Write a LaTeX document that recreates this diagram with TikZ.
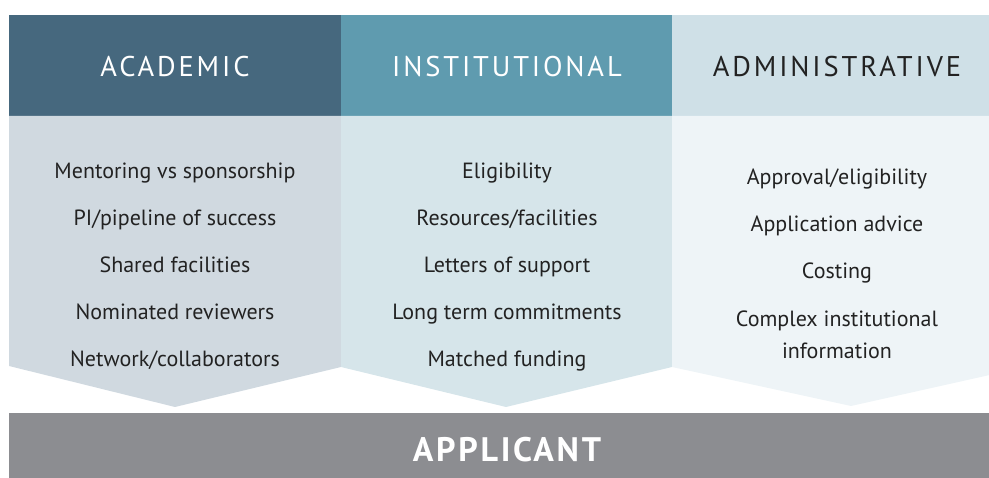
\documentclass[tikz,border=0pt]{standalone}
\usepackage{fontspec}
\setmainfont{PT Sans}
\usetikzlibrary{positioning}

\definecolor{acadhead}{HTML}{46687E}
\definecolor{insthead}{HTML}{5F9BAF}
\definecolor{admhead}{HTML}{CFE0E7}
\definecolor{acadbody}{HTML}{D0D9E0}
\definecolor{instbody}{HTML}{D6E5EA}
\definecolor{admbody}{HTML}{EEF4F7}
\definecolor{applbar}{HTML}{8C8D91}
\definecolor{itemtext}{HTML}{222222}

\tikzset{
  head/.style={inner sep=0pt,anchor=center,
    font=\fontsize{28.5}{30}\selectfont\addfontfeatures{LetterSpace=10}},
  item/.style={inner sep=0pt,anchor=base,text=itemtext,align=center,
    font=\fontsize{22}{32}\selectfont},
}

\begin{document}
\begin{tikzpicture}[x=1pt,y=-1pt]
  \useasboundingbox (0,0) rectangle (989,478);
  \clip (0,0) rectangle (989,478);

  % header bands
  \fill[acadhead] (9,15) rectangle (341,116);
  \fill[insthead] (341,15) rectangle (672,116);
  \fill[admhead] (672,15) rectangle (1030,116);
  \node[head,text=white] (acad) at (175,67) {ACADEMIC};
  \node[head,text=white] (inst) at (507,67) {INSTITUTIONAL};
  \node[head,text=itemtext] (adm) at (837,67) {ADMINISTRATIVE};

  % chevron bodies
  \fill[acadbody] (9,116) -- (341,116) -- (341,367) -- (175,407) -- (9,366) -- cycle;
  \fill[instbody] (341,116) -- (672,116) -- (672,367) -- (506,407) -- (341,367) -- cycle;
  \fill[admbody] (672,116) -- (1030,116) -- (1030,366) -- (851,406) -- (672,367) -- cycle;

  % academic
  \node[item] (a1) at (175,179) {Mentoring vs sponsorship};
  \node[item] (a2) at (175,226) {PI/pipeline of success};
  \node[item] (a3) at (175,273) {Shared facilities};
  \node[item] (a4) at (175,320) {Nominated reviewers};
  \node[item] (a5) at (175,367) {Network/collaborators};

  % institutional
  \node[item] (i1) at (507,179) {Eligibility};
  \node[item] (i2) at (507,226) {Resources/facilities};
  \node[item] (i3) at (507,273) {Letters of support};
  \node[item] (i4) at (507,320) {Long term commitments};
  \node[item] (i5) at (507,367) {Matched funding};

  % administrative
  \node[item] (d1) at (837,185) {Approval/eligibility};
  \node[item] (d2) at (837,232) {Application advice};
  \node[item] (d3) at (837,279) {Costing};
  \node[item] (d4) at (837,359) {Complex institutional\\information};

  % applicant bar
  \fill[applbar] (9,413) rectangle (1030,478);
  \node[inner sep=0pt,anchor=base,text=white,
    font=\fontsize{34}{36}\selectfont\bfseries\addfontfeatures{LetterSpace=8}]
    (appl) at (507,462) {APPLICANT};
\end{tikzpicture}
\end{document}
